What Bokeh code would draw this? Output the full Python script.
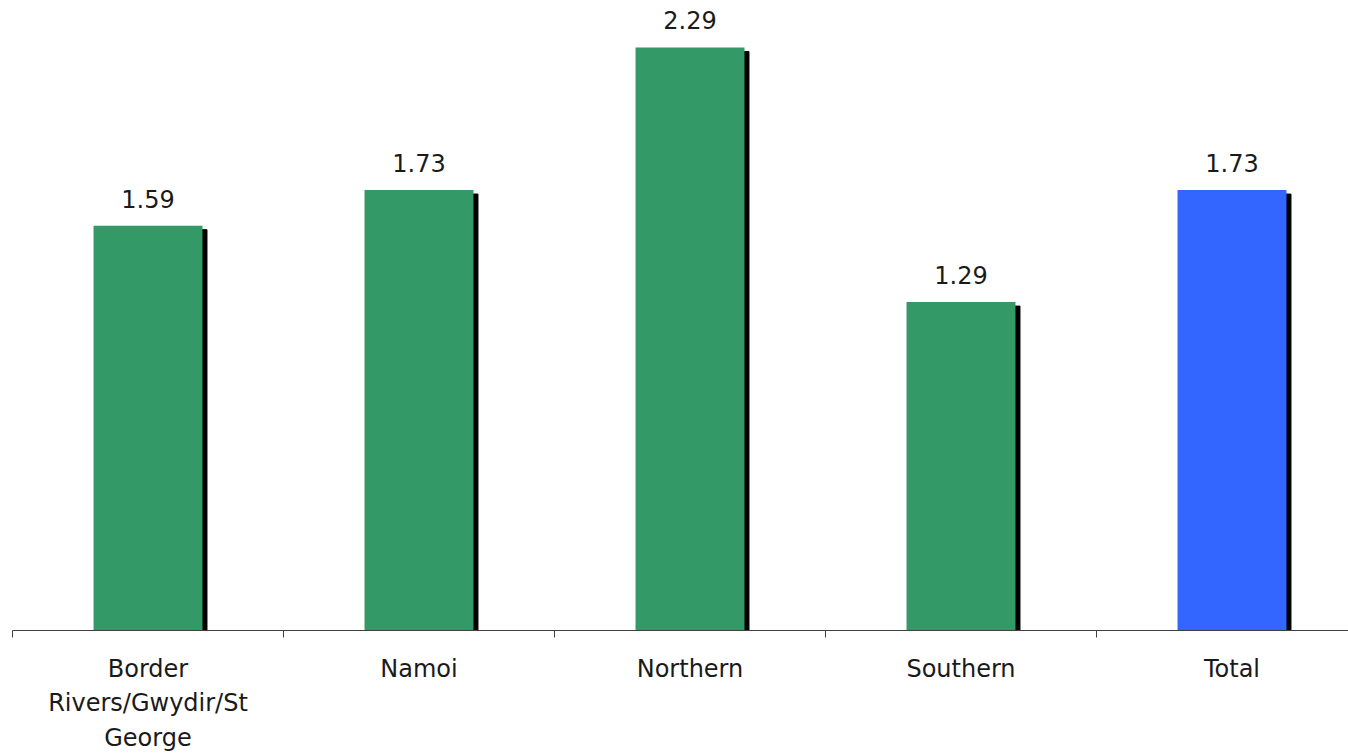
from bokeh.plotting import figure
from bokeh.models import ColumnDataSource, FixedTicker, Range1d
from bokeh.core.properties import value
from bokeh.embed import file_html
from bokeh.resources import INLINE

categories = ["Border\nRivers/Gwydir/St\nGeorge", "Namoi", "Northern", "Southern", "Total"]
values = [1.59, 1.73, 2.29, 1.29, 1.73]
value_labels = ["1.59", "1.73", "2.29", "1.29", "1.73"]
colors = ["#339966", "#339966", "#339966", "#339966", "#3366FF"]

centers = [i + 0.5 for i in range(len(categories))]
px_x = 271.0
px_y = 255.0
shadow_dx = 4.5 / px_x
shadow_dy = 4.0 / px_y
bar_w = 0.402

src = ColumnDataSource(dict(
    x=centers,
    top=values,
    color=colors,
    label=value_labels,
    sx=[c + shadow_dx for c in centers],
    stop=[v - shadow_dy for v in values],
))

W, H = 1348, 754
frame_h = 631
p = figure(width=W, height=H, output_backend="svg", toolbar_location=None,
           x_range=Range1d(0, (W - 12) / px_x), y_range=Range1d(0, frame_h / px_y),
           min_border_left=12, min_border_right=0, min_border_top=0,
           min_border_bottom=H - frame_h)
p.outline_line_color = None
p.grid.visible = False
p.yaxis.visible = False
p.background_fill_color = "white"
p.border_fill_color = "white"

p.vbar(x="sx", top="stop", bottom=0, width=bar_w, color="black", source=src)
p.vbar(x="x", top="top", bottom=0, width=bar_w, fill_color="color", line_color=None, source=src)

p.text(x="x", y="top", text="label", source=src, text_align="center",
       text_baseline="alphabetic", y_offset=-27, text_font=value("DejaVu Sans"),
       text_font_size="24px", text_color="#1a1a1a")

ax = p.xaxis[0]
ax.ticker = FixedTicker(ticks=centers, minor_ticks=list(range(len(categories) + 1)))
ax.major_label_overrides = {c: lab for c, lab in zip(centers, categories)}
ax.major_tick_out = 0
ax.major_tick_in = 0
ax.minor_tick_out = 7
ax.minor_tick_in = 0
ax.minor_tick_line_color = "#404040"
ax.axis_line_color = "#404040"
ax.major_label_text_font = "DejaVu Sans"
ax.major_label_text_font_size = "24px"
ax.major_label_text_color = "#1a1a1a"
ax.major_label_text_line_height = 1.24
ax.major_label_standoff = 17

open("out.html", "w").write(file_html(p, INLINE))
